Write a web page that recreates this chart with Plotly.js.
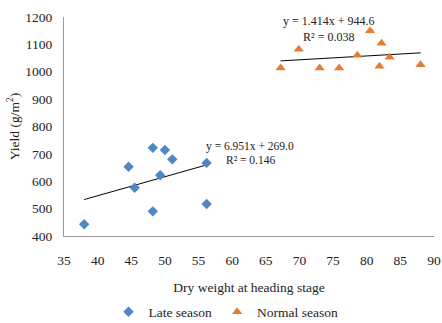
<!DOCTYPE html>
<html><head><meta charset="utf-8">
<script src="https://cdn.plot.ly/plotly-3.0.1.min.js"></script>
<style>html,body{margin:0;padding:0;background:#fff}#chart{width:442px;height:323px}</style>
</head><body><div id="chart"></div>
<script>
const lateX = [38.0, 44.6, 45.5, 48.2, 48.2, 50.0, 49.3, 51.1, 56.2, 56.2];
const lateY = [443, 653, 576, 722, 490, 714, 622, 680, 667, 517];
const normalX = [67.2, 69.9, 73.0, 75.9, 78.6, 80.5, 82.2, 81.9, 83.4, 88.0];
const normalY = [1014, 1082, 1014, 1014, 1060, 1150, 1104, 1020, 1053, 1026];
const lateFit = {slope: 6.951, intercept: 269.0, r2: 0.146};
const normalFit = {slope: 1.414, intercept: 944.6, r2: 0.038};
const seriesNames = ['Late season', 'Normal season'];
const xTitle = 'Dry weight at heading stage';
const yTitle = 'Yield (g/m<sup>2</sup>)';

function fitLine(xs, fit) {
  const x0 = Math.min(...xs), x1 = Math.max(...xs);
  return {x: [x0, x1], y: [fit.slope * x0 + fit.intercept, fit.slope * x1 + fit.intercept]};
}
const lf = fitLine(lateX, lateFit), nf = fitLine(normalX, normalFit);
const font = 'Liberation Serif, Times New Roman, serif';
const ink = '#222';
const traces = [
  {x: lf.x, y: lf.y, mode: 'lines', line: {color: '#000', width: 1}, showlegend: false, hoverinfo: 'skip'},
  {x: nf.x, y: nf.y, mode: 'lines', line: {color: '#000', width: 1}, showlegend: false, hoverinfo: 'skip'},
  {x: lateX, y: lateY, mode: 'markers', name: seriesNames[0],
   marker: {symbol: 'diamond', size: 8, color: '#4F86C6'}},
  {x: normalX, y: normalY, mode: 'markers', name: seriesNames[1],
   marker: {symbol: 'triangle-up', size: 9, color: '#E57C32'}}
];
function eqLine(fit) { return 'y = ' + fit.slope.toFixed(3) + 'x + ' + fit.intercept.toFixed(1); }
function r2Line(fit) { return 'R² = ' + fit.r2.toFixed(3); }
function ann(x, y, text, size) {
  return {x: x, y: y, xref: 'paper', yref: 'paper', text: text, showarrow: false,
    font: {family: font, size: size, color: ink}, xanchor: 'center', yanchor: 'middle'};
}
// plot area: x 64..434 px, y 17..236 px (height 219, width 370)
function px(xp) { return (xp - 64) / 370; }
function py(yp) { return (236 - yp) / 219; }
const layout = {
  width: 442, height: 323,
  margin: {l: 64, r: 8, t: 17, b: 87},
  paper_bgcolor: '#fff', plot_bgcolor: '#fff',
  font: {family: font, size: 12, color: ink},
  xaxis: {range: [35, 90], dtick: 5, tick0: 35, showgrid: false, zeroline: false,
    showline: true, linecolor: '#999', linewidth: 1, ticks: '', ticklen: 0,
    ticklabelstandoff: 12, automargin: false,
    tickfont: {family: font, size: 13.5, color: ink},
    title: {text: xTitle, font: {family: font, size: 13.5, color: ink}, standoff: 15}},
  yaxis: {range: [400, 1200], dtick: 100, showgrid: false, zeroline: false,
    showline: true, linecolor: '#999', linewidth: 1, ticks: '', ticklen: 0,
    ticklabelstandoff: 8, automargin: false,
    tickfont: {family: font, size: 13.5, color: ink},
    title: {text: yTitle, font: {family: font, size: 13.5, color: ink}, standoff: 2}},
  legend: {orientation: 'h', x: 0.5 + 5 / 442, xanchor: 'center', xref: 'container',
    y: 0.034, yanchor: 'middle', yref: 'container',
    font: {family: font, size: 13.5, color: ink}, itemwidth: 30, tracegroupgap: 0},
  annotations: [
    ann(px(250), py(146.5), eqLine(lateFit), 11.5),
    ann(px(251), py(159.5), r2Line(lateFit), 11.5),
    ann(px(329), py(29.5), eqLine(normalFit) + '<br>' + r2Line(normalFit), 12)
  ],
  showlegend: true
};
Plotly.newPlot('chart', traces, layout, {staticPlot: true, displayModeBar: false});
</script></body></html>
